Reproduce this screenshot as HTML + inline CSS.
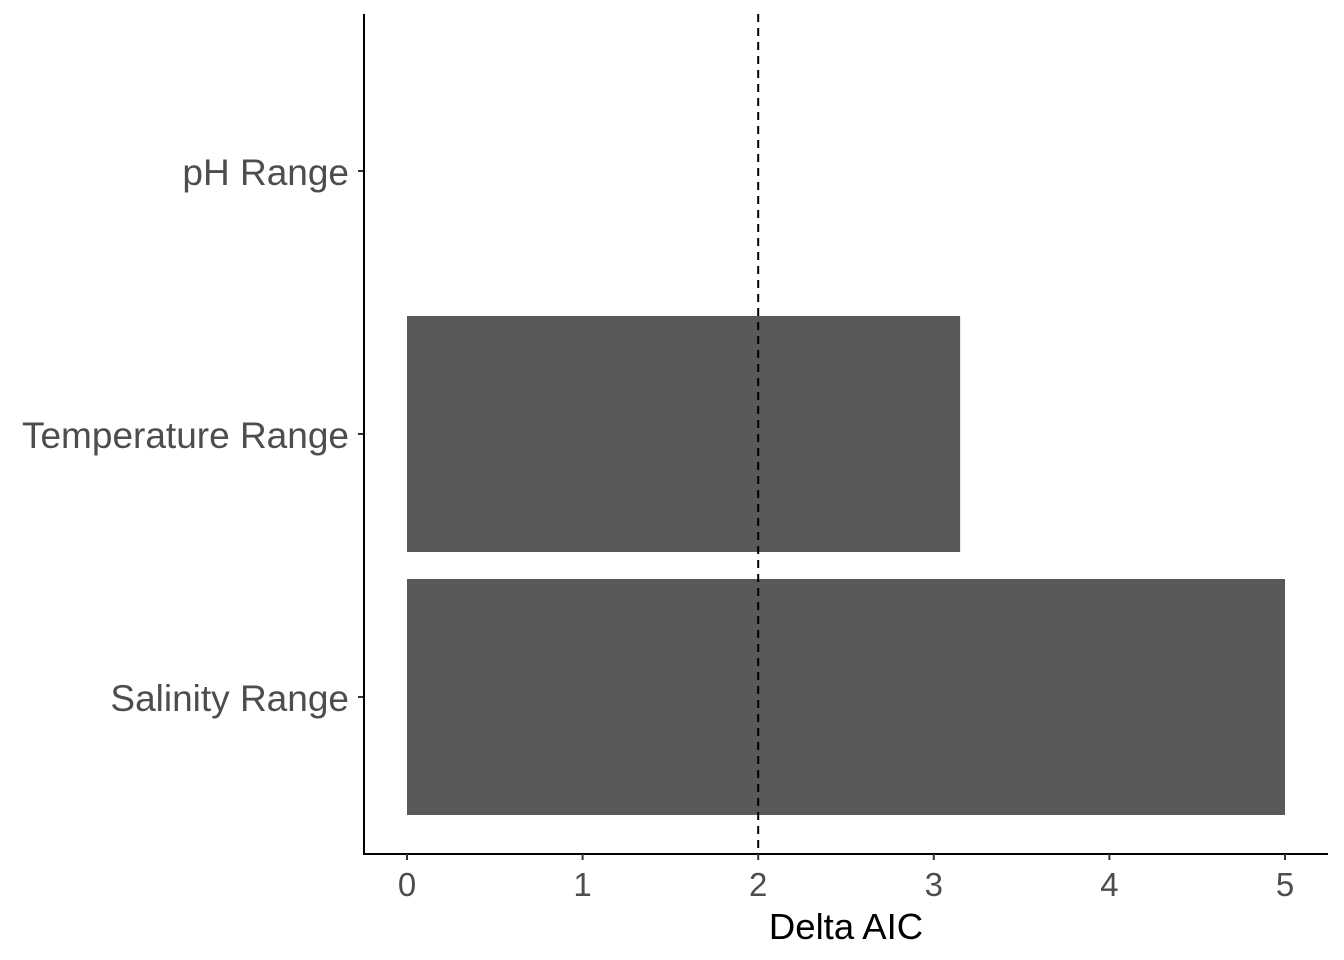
<!DOCTYPE html>
<html><head><meta charset="utf-8"><style>
html,body{margin:0;padding:0;background:#fff;}
svg{display:block;font-family:"Liberation Sans",Arial,sans-serif;}
</style></head><body>
<svg id="chart" width="1344" height="960" viewBox="0 0 1344 960" xmlns="http://www.w3.org/2000/svg">
<g id="bars"></g>
<g id="vline"></g>
<g id="axes"></g>
</svg>
<script>
const categories = ["Salinity Range","Temperature Range","pH Range"];
const values = [5.0, 3.15, 0];
const xTicks = [0,1,2,3,4,5];
const refLine = 2;

const NS="http://www.w3.org/2000/svg";
const x0=407, x5=1285;
function xs(v){return x0+(x5-x0)*v/5;}
const step=263;
function yc(i){return 697 - i*step;}
const barH=236;
function mk(tag,attrs,parent){const e=document.createElementNS(NS,tag);for(const k in attrs)e.setAttribute(k,attrs[k]);parent.appendChild(e);return e;}
const gb=document.getElementById('bars'), gv=document.getElementById('vline'), ga=document.getElementById('axes');

categories.forEach((c,i)=>{
  const r=mk('rect',{x:xs(0),y:yc(i)-barH/2,width:Math.max(0,xs(values[i])-xs(0)),height:barH,fill:'#595959'},gb);
  
  
  const t=mk('text',{x:349,y:yc(i)+14,'text-anchor':'end','font-size':'37',fill:'#4d4d4d'},ga);
  t.textContent=c;
  
  
  const tk=mk('line',{x1:358,x2:364,y1:yc(i),y2:yc(i),stroke:'#333','stroke-width':2},ga);
  
  
});

const vl=mk('line',{x1:xs(refLine),x2:xs(refLine),y1:14,y2:854,stroke:'#000','stroke-width':2,'stroke-dasharray':'8,6'},gv);



const ya=mk('line',{x1:364,x2:364,y1:14,y2:855,stroke:'#000','stroke-width':2},ga);


const xa=mk('line',{x1:363,x2:1328,y1:854,y2:854,stroke:'#000','stroke-width':2},ga);



xTicks.forEach(v=>{
  const tk=mk('line',{x1:xs(v),x2:xs(v),y1:854,y2:860,stroke:'#333','stroke-width':2},ga);
  
  
  const t=mk('text',{x:xs(v),y:896,'text-anchor':'middle','font-size':'33',fill:'#4d4d4d'},ga);
  t.textContent=String(v);
  
  
});
const xt=mk('text',{x:846,y:939,'text-anchor':'middle','font-size':'36.5',fill:'#000'},ga);
xt.textContent='Delta AIC';


</script>
</body></html>
